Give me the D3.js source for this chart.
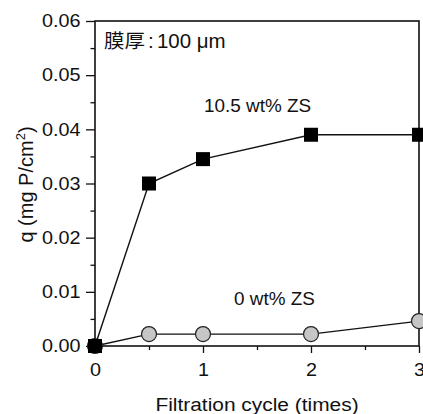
<!DOCTYPE html>
<html>
<head>
<meta charset="utf-8">
<script src="https://cdn.jsdelivr.net/npm/d3@7"></script>
<style>
  body { margin: 0; background: #fff; }
  text { font-family: "Liberation Sans", Arial, sans-serif; fill: #111; }
</style>
</head>
<body>
<div id="chart"></div>
<script>
// data
var cycles = [0, 0.5, 1, 2, 3]
var zs105 = [0, 0.030, 0.0345, 0.039, 0.039]
var zs0 = [0, 0.0022, 0.0022, 0.0022, 0.0046]
var xTicks = [0, 1, 2, 3]
var yTicks = [0, 0.01, 0.02, 0.03, 0.04, 0.05, 0.06]

function drawChart () {
    var width = 423
    var height = 414
    var pLeft = 95, pRight = 419, pTop = 21, pBottom = 346
    var stretch = 1.1   // the original text looks a bit wide

    var svg = d3.select('#chart')
        .append('svg')
        .attr('width', width)
        .attr('height', height)

    var xScale = d3.scaleLinear().domain([0, 3]).range([pLeft, pRight])
    var yScale = d3.scaleLinear().domain([0, 0.06]).range([pBottom, pTop])

    // frame
    svg.append('rect')
        .attr('x', pLeft).attr('y', pTop)
        .attr('width', pRight - pLeft).attr('height', pBottom - pTop)
        .attr('fill', 'none').attr('stroke', '#111').attr('stroke-width', 1.6)

    // y axis, major + minor ticks
    var yAxis = svg.append('g').attr('transform', `translate(${pLeft},0)`)
        .call(d3.axisLeft(yScale).tickValues(yTicks).tickFormat(d3.format('.2f')).tickSize(9).tickPadding(4.2))
    yAxis.select('.domain').remove()
    yAxis.selectAll('text').style('font-size', '18px').attr('transform', `scale(${stretch},1)`)
    yAxis.selectAll('line').attr('stroke', '#111').attr('stroke-width', 1.3)
    svg.append('g').attr('transform', `translate(${pLeft},0)`)
        .call(d3.axisLeft(yScale).tickValues(d3.range(0.005, 0.06, 0.01)).tickFormat('').tickSize(4.5))
        .call(g => g.select('.domain').remove())
        .selectAll('line').attr('stroke', '#111').attr('stroke-width', 1.3)

    // x axis
    var xAxis = svg.append('g').attr('transform', `translate(0,${pBottom})`)
        .call(d3.axisBottom(xScale).tickValues(xTicks).tickFormat(d3.format('d')).tickSize(7).tickPadding(10))
    xAxis.select('.domain').remove()
    xAxis.selectAll('text').style('font-size', '18px').attr('transform', `scale(${stretch},1)`)
    xAxis.selectAll('line').attr('stroke', '#111').attr('stroke-width', 1.3)
    svg.append('g').attr('transform', `translate(0,${pBottom})`)
        .call(d3.axisBottom(xScale).tickValues([0.5, 1.5, 2.5]).tickFormat('').tickSize(4))
        .call(g => g.select('.domain').remove())
        .selectAll('line').attr('stroke', '#111').attr('stroke-width', 1.3)

    // axis labels
    svg.append('text')
        .attr('transform', `translate(${(pLeft + pRight) / 2},411)scale(${stretch},1)`)
        .attr('text-anchor', 'middle')
        .style('font-size', '19px')
        .text('Filtration cycle (times)')

    var yLab = svg.append('text')
        .attr('text-anchor', 'middle')
        .attr('transform', `translate(33,${(pTop + pBottom) / 2 + 1})rotate(-90)`)
        .style('font-size', '20px')
    yLab.append('tspan').text('q (mg P/cm')
    yLab.append('tspan').attr('dy', -8).style('font-size', '13px').text('2')
    yLab.append('tspan').attr('dy', 8).text(')')

    // lines
    var line = d3.line().x(d => xScale(d[0])).y(d => yScale(d[1]))
    var grayPts = cycles.map((c, i) => [c, zs0[i]])
    var blackPts = cycles.map((c, i) => [c, zs105[i]])

    svg.append('path').datum(grayPts).attr('d', line)
        .attr('fill', 'none').attr('stroke', '#111').attr('stroke-width', 1.4)
    svg.append('path').datum(blackPts).attr('d', line)
        .attr('fill', 'none').attr('stroke', '#111').attr('stroke-width', 1.4)

    // markers: circles first, squares on top
    svg.append('g').selectAll('circle')
        .data(grayPts)
        .join('circle')
        .attr('cx', d => xScale(d[0]))
        .attr('cy', d => yScale(d[1]))
        .attr('r', 7.5)
        .attr('fill', '#c6c6c6')
        .attr('stroke', '#222')
        .attr('stroke-width', 1.2)

    var sq = 14
    svg.append('g').selectAll('rect')
        .data(blackPts)
        .join('rect')
        .attr('x', d => xScale(d[0]) - sq / 2)
        .attr('y', d => yScale(d[1]) - sq / 2)
        .attr('width', sq)
        .attr('height', sq)
        .attr('fill', '#000')

    // annotations
    var note = svg.append('text')
        .attr('transform', `translate(104,48)scale(1.05,1)`)
        .style('font-size', '19.5px')
    note.append('tspan')
        .style('font-family', '"Noto Sans CJK SC", sans-serif')
        .text('膜厚')
    note.append('tspan').attr('dx', 3).text(':')
    note.append('tspan').attr('dx', 3).text('100 μm')

    svg.append('text')
        .attr('transform', `translate(204,112)scale(1.05,1)`)
        .style('font-size', '18px')
        .text('10.5 wt% ZS')

    svg.append('text')
        .attr('transform', `translate(234,305)scale(1.05,1)`)
        .style('font-size', '18px')
        .text('0 wt% ZS')
}

drawChart()
</script>
</body>
</html>
